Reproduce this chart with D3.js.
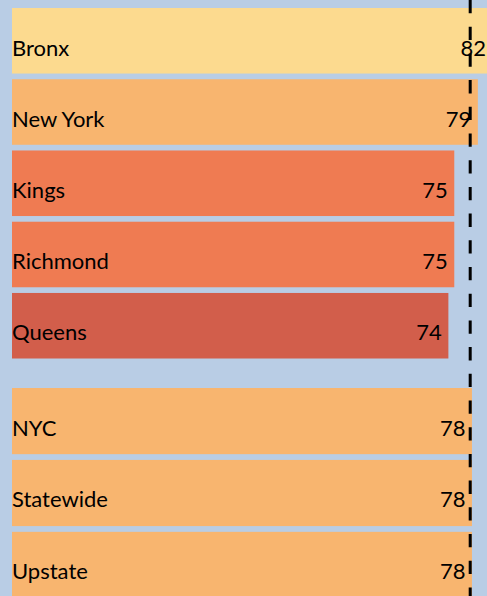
<!DOCTYPE html>
<html>
<head>
<meta charset="utf-8">
<script src="https://cdn.jsdelivr.net/npm/d3@7"></script>
<style>
  body { margin: 0; background: #b9cde5; }
  svg { display: block; }
  text { font-family: Lato, "Open Sans", sans-serif; font-size: 22px; fill: #000; }
</style>
</head>
<body>
<svg id="chart" width="487" height="596"></svg>
<script>
const boroughs = ["Bronx", "New York", "Kings", "Richmond", "Queens"];
const boroughValues = [82, 79, 75, 75, 74];
const boroughColors = ["#fcda8f", "#f8b56f", "#ef7b52", "#ef7b52", "#d25e4b"];

const totals = ["NYC", "Statewide", "Upstate"];
const totalValues = [78, 78, 78];
const totalColors = ["#f8b56f", "#f8b56f", "#f8b56f"];

const reference = 77.7;

const W = 487, H = 596;
const svg = d3.select("#chart");

svg.append("rect").attr("width", W).attr("height", H).attr("fill", "#b9cde5");

// value axis starts at 0 on the left edge of the bars
const x = d3.scaleLinear().domain([0, 82]).range([12, 12 + 82 * 5.897]);

function drawGroup(names, values, colors, y0, y1) {
    let y = d3.scaleBand().domain(names).range([y0, y1]).paddingInner(0.08).paddingOuter(0);
    let g = svg.append("g");
    names.forEach((name, i) => {
        g.append("rect")
            .attr("x", x(0))
            .attr("y", y(name))
            .attr("width", x(values[i]) - x(0))
            .attr("height", y.bandwidth())
            .attr("fill", colors[i]);
        g.append("text")
            .attr("x", x(0))
            .attr("y", y(name) + 47.5)
            .text(name);
        g.append("text")
            .attr("x", Math.min(x(values[i]) - 6.5, W - 1))
            .attr("y", y(name) + 47.5)
            .attr("text-anchor", "end")
            .text(values[i]);
    });
}

drawGroup(boroughs, boroughValues, boroughColors, 8, 358.5);
drawGroup(totals, totalValues, totalColors, 388, 598);

svg.append("line")
    .attr("x1", x(reference)).attr("x2", x(reference))
    .attr("y1", 0).attr("y2", H)
    .attr("stroke", "#000")
    .attr("stroke-width", 3)
    .attr("stroke-dasharray", "13.3 13.4");
</script>
</body>
</html>
